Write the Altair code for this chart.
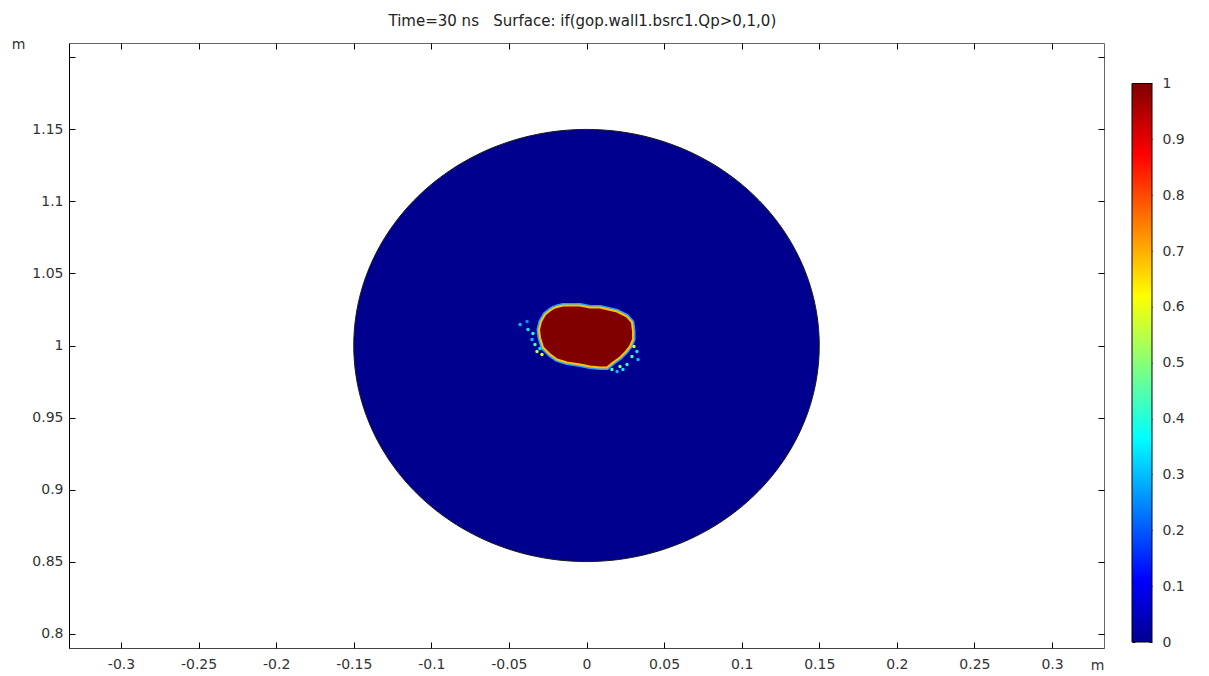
import altair as alt
import pandas as pd

# ---------------- data ----------------
title_text = "Time=30 ns\u00a0\u00a0\u00a0Surface: if(gop.wall1.bsrc1.Qp>0,1,0)"

x_domain = [-0.3335, 0.3335]
y_domain = [0.79, 1.21]
x_ticks = [-0.3, -0.25, -0.2, -0.15, -0.1, -0.05, 0.0, 0.05, 0.1, 0.15, 0.2, 0.25, 0.3]
y_ticks = [0.8, 0.85, 0.9, 0.95, 1.0, 1.05, 1.1, 1.15, 1.2]
y_labeled = [0.8, 0.85, 0.9, 0.95, 1.0, 1.05, 1.1, 1.15]

# circular domain (value 0 everywhere outside the hot spot)
disk_cx = 0.0
disk_cy = 1.0
disk_r = 0.15

# outline of the region where the expression equals 1
blob_x = [-0.0203, -0.0151, -0.0042, 0.0023, 0.0087, 0.0197, 0.0261, 0.0293, 0.0300,
          0.0300, 0.0280, 0.0248, 0.0216, 0.0171, 0.0132, 0.0087, 0.0023, -0.0042,
          -0.0126, -0.0190, -0.0235, -0.0280, -0.0300, -0.0306, -0.0293, -0.0267, -0.0235]
blob_y = [1.0264, 1.0278, 1.0278, 1.0264, 1.0264, 1.0236, 1.0201, 1.0160, 1.0097,
          1.0042, 0.9993, 0.9951, 0.9917, 0.9882, 0.9847, 0.9847, 0.9854, 0.9868,
          0.9882, 0.9903, 0.9938, 0.9986, 1.0056, 1.0111, 1.0167, 1.0215, 1.0243]

# scattered fringe elements around the hot spot
fringe_x = [-0.0428, -0.0383, -0.0377, -0.0345, -0.0351, -0.0332, -0.0319, -0.0287, -0.0300,
            0.0325, 0.0332, 0.0293, 0.0261, 0.0235, 0.0197, 0.0306, 0.0216, 0.0164]
fringe_y = [1.0146, 1.0167, 1.0111, 1.0083, 1.0042, 1.0007, 0.9958, 0.9938, 0.9979,
            0.9958, 0.9903, 0.9924, 0.9868, 0.9833, 0.9819, 0.9993, 0.9854, 0.9833]
fringe_v = [0.30, 0.25, 0.35, 0.40, 0.30, 0.45, 0.55, 0.60, 0.35,
            0.35, 0.30, 0.45, 0.40, 0.35, 0.30, 0.55, 0.50, 0.45]

cbar_ticks = [0.0, 0.1, 0.2, 0.3, 0.4, 0.5, 0.6, 0.7, 0.8, 0.9, 1.0]
jet_offsets = [0.0, 0.111, 0.365, 0.619, 0.873, 1.0]
jet_colors = ["#00008F", "#0000FF", "#00FFFF", "#FFFF00", "#FF0000", "#800000"]

# ---------------- build ----------------
W, H = 1035, 605
FONT = "DejaVu Sans"
LFS = 14
lbl = "replace(format(datum.value, '.2~f'), '\u2212', '-')"

xs = alt.Scale(domain=x_domain, nice=False, zero=False)
ys = alt.Scale(domain=y_domain, nice=False, zero=False)

main_x_axis = alt.Axis(orient="bottom", values=x_ticks, ticks=False, tickSize=0, labelPadding=9,
                       labelExpr=lbl, labelColor="#333", labelFontSize=LFS, labelFlush=False,
                       labelOverlap=False, domainColor="#444", grid=False, title="m",
                       titleX=1028, titleY=17, titleAlign="center", titleBaseline="middle",
                       titleFontWeight="normal", titleFontSize=LFS, titleColor="#333")
main_y_axis = alt.Axis(orient="left", values=y_labeled, ticks=False, tickSize=0, labelPadding=6,
                       labelExpr=lbl, labelColor="#333", labelFontSize=LFS, labelOverlap=False,
                       domainColor="#000", grid=False, title="m", titleAngle=0, titleX=-51,
                       titleY=1, titleAlign="center", titleBaseline="middle",
                       titleFontWeight="normal", titleFontSize=LFS, titleColor="#333",
                       minExtent=60, maxExtent=60)


def tick_axis(orient, values, offset):
    return alt.Axis(orient=orient, offset=offset, values=values, labels=False, domain=False,
                    grid=False, ticks=True, tickSize=6, tickColor="#000", tickWidth=1, title=None)


disk = alt.Chart(alt.sequence(0, 361, 2, as_="deg")).transform_calculate(
    x=f"{disk_cx} + {disk_r} * cos(datum.deg * PI / 180)",
    y=f"{disk_cy} + {disk_r} * sin(datum.deg * PI / 180)",
).mark_line(fill=jet_colors[0], stroke="#1a1a1a", strokeWidth=1).encode(
    x=alt.X("x:Q", scale=xs, axis=main_x_axis),
    y=alt.Y("y:Q", scale=ys, axis=main_y_axis),
    order="deg:Q",
)

blob_df = pd.DataFrame({"x": blob_x + blob_x[:1], "y": blob_y + blob_y[:1],
                        "i": list(range(len(blob_x) + 1))})

halo = alt.Chart(blob_df).mark_line(stroke="#2f9dff", strokeWidth=5, strokeJoin="round").encode(
    x=alt.X("x:Q", scale=xs, axis=tick_axis("top", x_ticks, -H)),
    y=alt.Y("y:Q", scale=ys, axis=tick_axis("right", y_ticks, -W)),
    order="i:Q",
)

blob = alt.Chart(blob_df).mark_line(fill=jet_colors[-1], stroke="#ffc400", strokeWidth=2,
                                     strokeJoin="round").encode(
    x=alt.X("x:Q", scale=xs, axis=tick_axis("bottom", x_ticks, -H)),
    y=alt.Y("y:Q", scale=ys, axis=tick_axis("left", y_ticks, -W)),
    order="i:Q",
)

fringe_df = pd.DataFrame({"x": fringe_x, "y": fringe_y, "v": fringe_v})
cscale = alt.Scale(domain=jet_offsets, range=jet_colors, interpolate="rgb")
fringe = alt.Chart(fringe_df).mark_circle(size=12, opacity=1).encode(
    x=alt.X("x:Q", scale=xs, axis=None),
    y=alt.Y("y:Q", scale=ys, axis=None),
    color=alt.Color("v:Q", scale=cscale, legend=None),
)

main = alt.layer(disk, halo, blob, fringe).resolve_axis(
    x="independent", y="independent"
).properties(width=W, height=H, view=alt.ViewBackground(stroke="#666", strokeWidth=1))

# ---------------- colour bar ----------------
cb_df = pd.DataFrame({"x0": [0.0], "x1": [1.0], "v0": [0.0], "v1": [1.0]})
cb_xs = alt.Scale(domain=[0, 1], nice=False, zero=False)
cb_ys = alt.Scale(domain=[-0.01074, 1.0725], nice=False, zero=False)
cb_label_axis = alt.Axis(orient="right", values=cbar_ticks, ticks=False, tickSize=0, domain=False,
                         labelPadding=10, labelExpr="format(datum.value, '~g')", grid=False,
                         title=None, labelColor="#333", labelFontSize=LFS)


def cb_tick_axis(orient):
    return alt.Axis(orient=orient, offset=-20, values=cbar_ticks, labels=False, domain=False,
                    grid=False, ticks=True, tickSize=3, tickColor="#000", title=None)


grad = alt.Gradient(gradient="linear",
                    stops=[alt.GradientStop(color=c, offset=o) for c, o in zip(jet_colors, jet_offsets)],
                    x1=0, x2=0, y1=1, y2=0)
cb_base = alt.Chart(cb_df)
cb_rect = cb_base.mark_rect(fill=grad, stroke="#000", strokeWidth=1).encode(
    x=alt.X("x0:Q", scale=cb_xs, axis=None), x2="x1:Q",
    y=alt.Y("v0:Q", scale=cb_ys, axis=cb_label_axis), y2="v1:Q",
)
cb_t1 = cb_base.mark_rect(opacity=0).encode(
    x=alt.X("x0:Q", scale=cb_xs, axis=None), x2="x1:Q",
    y=alt.Y("v0:Q", scale=cb_ys, axis=cb_tick_axis("right")), y2="v1:Q",
)
cb_t2 = cb_base.mark_rect(opacity=0).encode(
    x=alt.X("x0:Q", scale=cb_xs, axis=None), x2="x1:Q",
    y=alt.Y("v0:Q", scale=cb_ys, axis=cb_tick_axis("left")), y2="v1:Q",
)
cbar = alt.layer(cb_rect, cb_t1, cb_t2).resolve_axis(y="independent").properties(
    width=20, height=H, view=alt.ViewBackground(strokeOpacity=0))

chart = alt.hconcat(main, cbar, spacing=26).properties(
    title=alt.TitleParams(title_text, anchor="middle", fontSize=15, fontWeight="normal",
                          color="#222", offset=8, dx=-14, font=FONT),
    padding={"left": 0, "top": 5, "right": 5, "bottom": 5},
    background="white",
).configure(font=FONT).configure_axis(labelFont=FONT, titleFont=FONT)

chart.save("out.html", embed_options={"renderer": "svg", "actions": False})
